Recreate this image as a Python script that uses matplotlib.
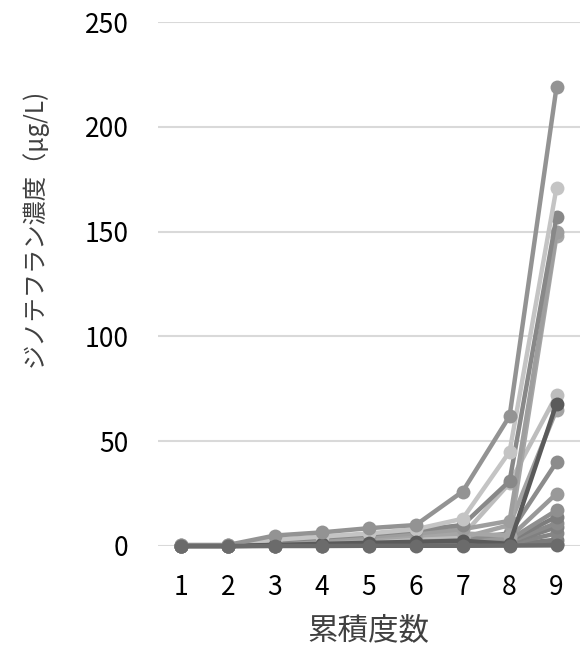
import numpy as np
import matplotlib.pyplot as plt

plt.rcParams['font.family'] = ['Noto Sans CJK JP', 'DejaVu Sans']

counts = [1, 2, 3, 4, 5, 6, 7, 8, 9]

# concentration series (µg/L) per cumulative count
s01 = [0.5, 0.5, 5.0, 6.5, 8.5, 10.0, 26.0, 62.0, 219.0]
s02 = [0.3, 0.3, 3.0, 4.5, 6.0, 8.0, 13.0, 45.0, 171.0]
s03 = [0.3, 0.3, 2.5, 4.0, 5.5, 7.5, 10.0, 31.0, 157.0]
s04 = [0.2, 0.2, 2.0, 3.0, 4.5, 6.0, 8.0, 12.0, 150.0]
s05 = [0.2, 0.2, 1.5, 2.5, 3.5, 5.0, 6.0, 5.0, 148.0]
s06 = [0.2, 0.2, 1.0, 2.0, 3.0, 4.0, 5.0, 30.0, 72.0]
s07 = [0.1, 0.1, 0.5, 1.0, 1.5, 2.0, 2.5, 1.0, 68.0]
s08 = [0.1, 0.1, 1.0, 1.5, 2.5, 3.0, 4.0, 10.0, 65.0]
s09 = [0.1, 0.1, 0.8, 1.2, 2.0, 2.5, 3.5, 6.0, 40.0]
s10 = [0.1, 0.1, 0.6, 1.0, 1.5, 2.0, 3.0, 4.0, 25.0]
s11 = [0.1, 0.1, 0.5, 0.8, 1.2, 1.8, 2.5, 3.0, 17.0]
s12 = [0.1, 0.1, 0.4, 0.6, 1.0, 1.5, 2.0, 2.5, 14.0]
s13 = [0.1, 0.1, 0.3, 0.5, 0.8, 1.2, 1.5, 2.0, 11.0]
s14 = [0.0, 0.0, 0.2, 0.4, 0.6, 1.0, 1.2, 1.5, 9.0]
s15 = [0.0, 0.0, 0.2, 0.3, 0.5, 0.8, 1.0, 1.0, 6.0]
s16 = [0.0, 0.0, 0.1, 0.2, 0.3, 0.5, 0.6, 0.8, 3.0]
s17 = [0.0, 0.0, 0.1, 0.1, 0.2, 0.3, 0.4, 0.5, 1.0]
s18 = [0.0, 0.0, 0.0, 0.0, 0.1, 0.1, 0.1, 0.2, 0.3]

series = [s17, s16, s15, s14, s13, s12, s11, s10, s09,
          s08, s06, s05, s04, s03, s02, s07, s01, s18]
colors = ['#737373', '#7a7a7a', '#858585', '#808080', '#8a8a8a',
          '#7d7d7d', '#8f8f8f', '#999999', '#8c8c8c',
          '#a3a3a3', '#bdbdbd', '#a6a6a6', '#9e9e9e', '#888888', '#c4c4c4',
          '#5a5a5a', '#939393', '#6b6b6b']

fig = plt.figure(figsize=(5.8, 6.51), dpi=100)
ax = fig.add_axes([0.2716, 0.1613, 0.7284, 0.8047])

for vals, c in zip(series, colors):
    ax.plot(counts, vals, color=c, lw=3.2, marker='o', ms=10,
            markeredgewidth=0, clip_on=False, zorder=3)

ax.set_xlim(0.5, 9.5)
ax.set_ylim(0, 250)
ax.set_yticks([0, 50, 100, 150, 200, 250])
ax.set_xticks(counts)
ax.yaxis.grid(True, color='#d9d9d9', lw=1.5, zorder=0)
ax.set_axisbelow(True)
for sp in ax.spines.values():
    sp.set_visible(False)
ax.tick_params(axis='both', length=0, labelsize=19, colors='#000000')
ax.tick_params(axis='y', pad=21)
ax.tick_params(axis='x', pad=20)

ax.set_xlabel('累積度数', fontsize=22, labelpad=10, color='#404040')
ax.set_ylabel('ジノテフラン濃度（µg/L)', fontsize=17.5, color='#404040')
ax.yaxis.set_label_coords(-0.26, 0.607)

fig.savefig('out.png', dpi=100)
